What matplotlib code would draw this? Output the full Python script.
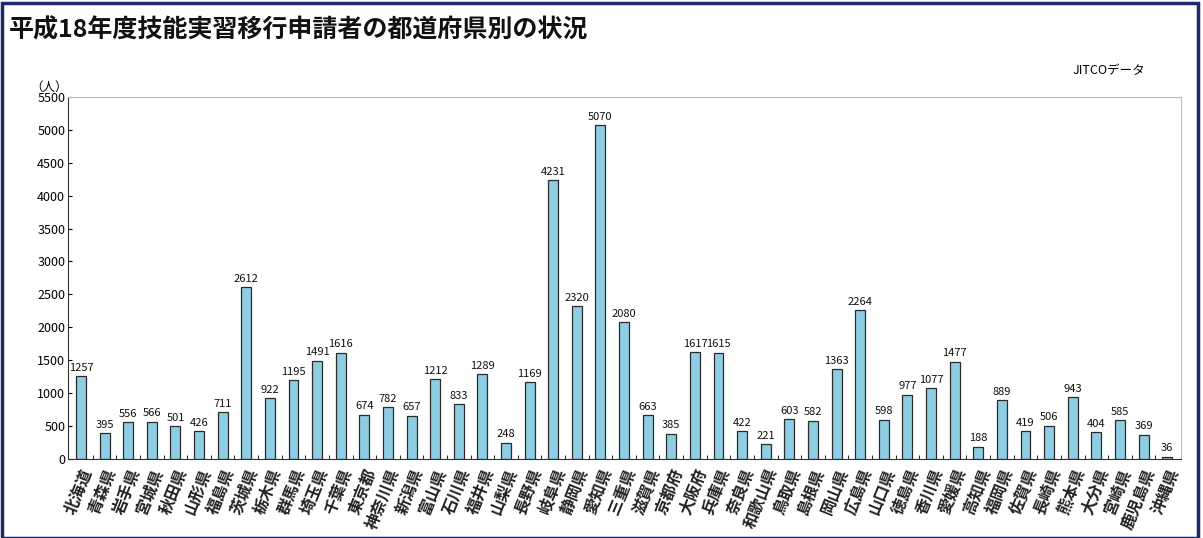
import matplotlib
matplotlib.use("Agg")
import matplotlib.pyplot as plt
from matplotlib.patches import Rectangle

plt.rcParams['font.family'] = ['Noto Sans CJK JP', 'DejaVu Sans']

prefectures = ["北海道", "青森県", "岩手県", "宮城県", "秋田県", "山形県", "福島県", "茨城県",
               "栃木県", "群馬県", "埼玉県", "千葉県", "東京都", "神奈川県", "新潟県", "富山県",
               "石川県", "福井県", "山梨県", "長野県", "岐阜県", "静岡県", "愛知県", "三重県",
               "滋賀県", "京都府", "大阪府", "兵庫県", "奈良県", "和歌山県", "鳥取県", "島根県",
               "岡山県", "広島県", "山口県", "徳島県", "香川県", "愛媛県", "高知県", "福岡県",
               "佐賀県", "長崎県", "熊本県", "大分県", "宮崎県", "鹿児島県", "沖縄県"]
values = [1257, 395, 556, 566, 501, 426, 711, 2612,
          922, 1195, 1491, 1616, 674, 782, 657, 1212,
          833, 1289, 248, 1169, 4231, 2320, 5070, 2080,
          663, 385, 1617, 1615, 422, 221, 603, 582,
          1363, 2264, 598, 977, 1077, 1477, 188, 889,
          419, 506, 943, 404, 585, 369, 36]
yticks = list(range(0, 5501, 500))

fig = plt.figure(figsize=(12.03, 5.38), dpi=100)
fig.patch.set_facecolor('white')
ax = fig.add_axes([0.0565, 0.147, 0.9255, 0.673])

x = list(range(len(prefectures)))
ax.bar(x, values, width=0.42, color='#8ecde4', edgecolor='#2a2a2a', linewidth=0.9)
for xi, v in zip(x, values):
    ax.text(xi, v + 50, str(v), ha='center', va='bottom', fontsize=8, color='#111')

ax.set_xlim(-0.55, len(prefectures) - 0.4)
ax.set_ylim(0, 5500)
ax.set_yticks(yticks)
ax.set_yticklabels([str(t) for t in yticks], fontsize=9)
ax.tick_params(axis='y', direction='in', length=3, pad=2)
ax.set_xticks(x)
ax.set_xticklabels(prefectures, rotation=68, ha='right', rotation_mode='anchor',
                   fontsize=11.5, fontweight='bold', color='#222')
ax.tick_params(axis='x', length=0, pad=5)
# small ticks between bars
ax.set_xticks([i + 0.5 for i in x[:-1]], minor=True)
ax.tick_params(axis='x', which='minor', direction='in', length=3)

for s in ['top', 'right']:
    ax.spines[s].set_color('#bbbbbb')
    ax.spines[s].set_linewidth(0.8)
ax.spines['left'].set_color('#333')
ax.spines['bottom'].set_color('#333')

fig.text(0.007, 0.944, "平成18年度技能実習移行申請者の都道府県別の状況", fontsize=18,
         fontweight='bold', ha='left', va='center', color='#111')
fig.text(0.025, 0.837, "（人）", fontsize=9, ha='left', va='center')
fig.text(0.952, 0.868, "JITCOデータ", fontsize=9, ha='right', va='center')

fig.patches.append(Rectangle((0.002, 0.0), 0.994, 0.995, transform=fig.transFigure,
                             fill=False, edgecolor='#1c2a6b', linewidth=2.5))

fig.savefig("out.png", dpi=100)
